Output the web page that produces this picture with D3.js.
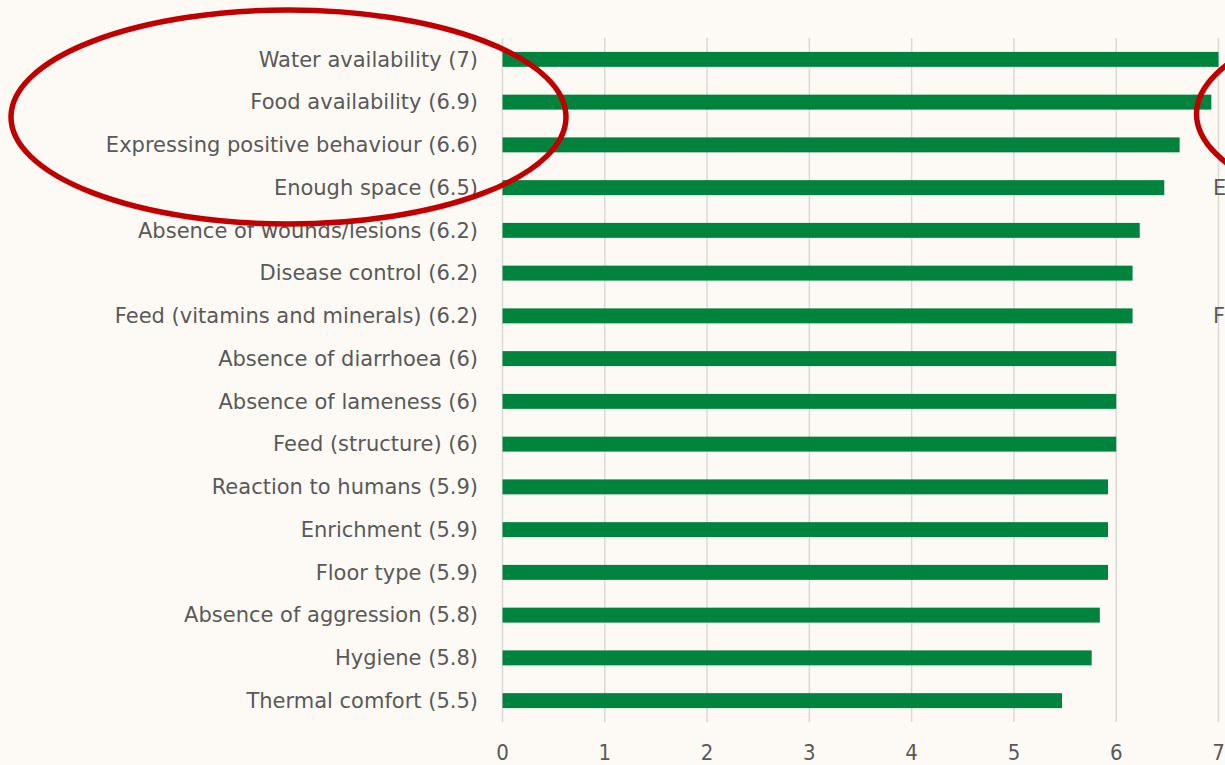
<!DOCTYPE html>
<html>
<head>
<meta charset="utf-8">
<script src="https://cdn.jsdelivr.net/npm/d3@7"></script>
<style>
  html, body { margin: 0; padding: 0; background: #fdfaf6; overflow: hidden; }
  svg { display: block; }
</style>
</head>
<body>
<svg id="chart" width="1225" height="765"></svg>
<script>
// Welfare criteria, top to bottom, with mean score
const labels = [
    'Water availability (7)',
    'Food availability (6.9)',
    'Expressing positive behaviour (6.6)',
    'Enough space (6.5)',
    'Absence of wounds/lesions (6.2)',
    'Disease control (6.2)',
    'Feed (vitamins and minerals) (6.2)',
    'Absence of diarrhoea (6)',
    'Absence of lameness (6)',
    'Feed (structure) (6)',
    'Reaction to humans (5.9)',
    'Enrichment (5.9)',
    'Floor type (5.9)',
    'Absence of aggression (5.8)',
    'Hygiene (5.8)',
    'Thermal comfort (5.5)'
];
const values = [7.0, 6.93, 6.62, 6.47, 6.23, 6.16, 6.16, 6.0, 6.0, 6.0, 5.92, 5.92, 5.92, 5.84, 5.76, 5.47];
const xTicks = [0, 1, 2, 3, 4, 5, 6, 7];
// partly visible labels of the neighbouring chart
const cutLabels = [{row: 3, text: 'E'}, {row: 6, text: 'F'}];

const svg = d3.select('#chart');
const textColor = '#595959';

const x = d3.scaleLinear().domain([0, 7]).range([502.5, 1218.5]);
const y = d3.scaleBand().domain(d3.range(labels.length)).range([38, 722]).paddingInner(0.65).paddingOuter(0.325);

// Vertical gridlines
svg.append('g')
    .selectAll('line')
    .data(xTicks)
    .enter()
    .append('line')
    .attr('x1', d => x(d))
    .attr('x2', d => x(d))
    .attr('y1', 38)
    .attr('y2', 722)
    .style('stroke', '#d9d9d9')
    .style('stroke-width', 1.5);

// Bars
svg.append('g')
    .selectAll('rect')
    .data(values)
    .enter()
    .append('rect')
    .attr('x', x(0))
    .attr('y', (d, i) => y(i))
    .attr('width', d => x(d) - x(0))
    .attr('height', y.bandwidth())
    .style('fill', '#00843d');

// Category labels
svg.append('g')
    .selectAll('text')
    .data(labels)
    .enter()
    .append('text')
    .attr('x', 478)
    .attr('y', (d, i) => y(i) + y.bandwidth() / 2)
    .attr('dy', '0.35em')
    .attr('text-anchor', 'end')
    .style('font-family', 'DejaVu Sans, sans-serif')
    .style('font-size', '21px')
    .style('fill', textColor)
    .text(d => d);

// X axis tick labels
svg.append('g')
    .selectAll('text')
    .data(xTicks)
    .enter()
    .append('text')
    .attr('x', d => x(d))
    .attr('y', 752)
    .attr('dy', '0.35em')
    .attr('text-anchor', 'middle')
    .style('font-family', '"Liberation Sans Narrow", "DejaVu Sans Condensed", sans-serif')
    .style('font-size', '22px')
    .style('fill', textColor)
    .text(d => d);

svg.append('g')
    .selectAll('text')
    .data(cutLabels)
    .enter()
    .append('text')
    .attr('x', 1213)
    .attr('y', d => y(d.row) + y.bandwidth() / 2)
    .attr('dy', '0.35em')
    .style('font-family', 'DejaVu Sans, sans-serif')
    .style('font-size', '21px')
    .style('fill', textColor)
    .text(d => d.text);

// Red highlight ellipses
svg.append('ellipse')
    .attr('cx', 288.5)
    .attr('cy', 117)
    .attr('rx', 277.5)
    .attr('ry', 107)
    .style('fill', 'none')
    .style('stroke', '#c00000')
    .style('stroke-width', 5.5);

svg.append('ellipse')
    .attr('cx', 1474)
    .attr('cy', 114)
    .attr('rx', 277.5)
    .attr('ry', 108)
    .style('fill', 'none')
    .style('stroke', '#c00000')
    .style('stroke-width', 5.5);
</script>
</body>
</html>
